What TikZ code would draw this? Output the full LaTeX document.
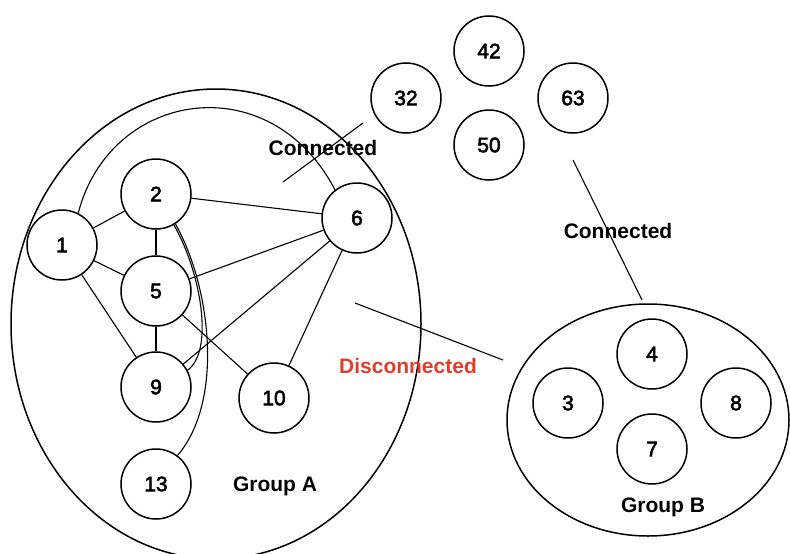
\documentclass[tikz,border=0pt]{standalone}
\usepackage{fontspec}
\setmainfont{Liberation Sans}
\newcommand\thk[1]{\special{pdf:literal direct 2 Tr 0.55 w}#1\special{pdf:literal direct 0 Tr}}
\definecolor{discred}{RGB}{222,62,42}
\begin{document}
\begin{tikzpicture}[x=1pt,y=-1pt,
  vnode/.style={circle,draw=black,line width=1.5pt,minimum size=70pt,inner sep=0pt,font=\fontsize{21}{21}\selectfont},
  group/.style={draw=black,line width=1.5pt},
  edge/.style={draw=black,line width=1.1pt},
  lbl/.style={font=\fontsize{21}{21}\selectfont\bfseries,inner sep=0pt}]
\useasboundingbox (0,0) rectangle (790,554);
% groups
\draw[group] (216,324) ellipse [x radius=205, y radius=235];
\draw[group] (648,420) ellipse [x radius=141, y radius=116];
% group A nodes
\node[vnode] (n1) at (62,245) {\thk{1}};
\node[vnode] (n2) at (156,194) {\thk{2}};
\node[vnode] (n5) at (156,291) {\thk{5}};
\node[vnode] (n9) at (156,387) {\thk{9}};
\node[vnode] (n10) at (274,398) {\thk{10}};
\node[vnode] (n13) at (156,484) {\thk{13}};
\node[vnode] (n6) at (357,218) {\thk{6}};
% top nodes
\node[vnode] (n42) at (489,51) {\thk{42}};
\node[vnode] (n32) at (406,98) {\thk{32}};
\node[vnode] (n63) at (573,98) {\thk{63}};
\node[vnode] (n50) at (489,145) {\thk{50}};
% group B nodes
\node[vnode] (n4) at (652,354) {\thk{4}};
\node[vnode] (n3) at (568,403) {\thk{3}};
\node[vnode] (n8) at (736,403) {\thk{8}};
\node[vnode] (n7) at (652,449) {\thk{7}};
% edges
\draw[edge] (n1) -- (n2);
\draw[edge] (n1) -- (n5);
\draw[edge] (n1) -- (n9);
\draw[edge] (n2) -- (n5);
\draw[edge] (n2) -- (n6);
\draw[edge] (n5) -- (n6);
\draw[edge] (n5) -- (n9);
\draw[edge] (n5) -- (n10);
\draw[edge] (n6) -- (n9);
\draw[edge] (n6) -- (n10);
\draw[edge] (n1.63) .. controls (110,90) and (270,65) .. (n6.128);
\draw[edge] (n2.-60) .. controls (200,270) and (215,350) .. (n9.28);
\draw[edge] (n2.-57) .. controls (210,285) and (225,400) .. (n13.53);
% labelled connectors
\coordinate (c1a) at (283,182);
\coordinate (c1b) at (363,123);
\coordinate (c2a) at (573,160);
\coordinate (c2b) at (642,300);
\coordinate (c3a) at (355,303);
\coordinate (c3b) at (503,360);
\draw[edge] (c1a) -- (c1b);
\draw[edge] (c2a) -- (c2b);
\draw[edge] (c3a) -- (c3b);
% labels
\node[lbl] (lc1) at (323,148) {Connected};
\node[lbl] (lc2) at (618,231) {Connected};
\node[lbl,text=discred] (ld) at (408,366) {Disconnected};
\node[lbl] (lga) at (275,486) {Group A};
\node[lbl] (lgb) at (663,507) {Group B};
\end{tikzpicture}
\end{document}
